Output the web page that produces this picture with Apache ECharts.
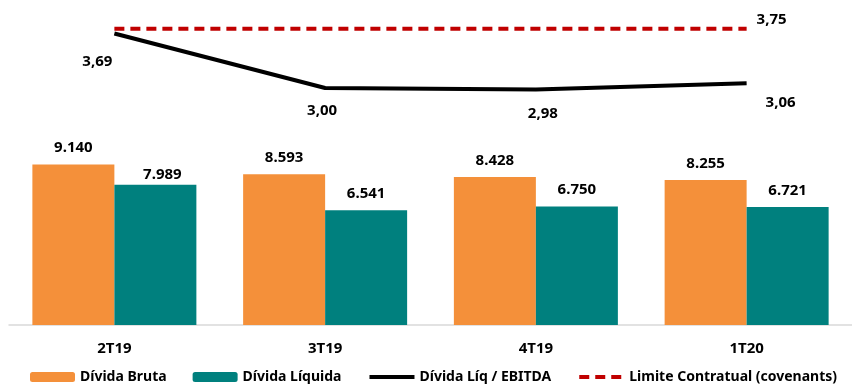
<!DOCTYPE html>
<html>
<head>
<meta charset="utf-8">
<script src="https://cdn.jsdelivr.net/npm/echarts@6/dist/echarts.min.js"></script>
<style>
  html, body { margin: 0; padding: 0; background: #fff; }
  #chart { width: 852px; height: 385px; }
</style>
</head>
<body>
<div id="chart"></div>
<script>
const categories = ['2T19', '3T19', '4T19', '1T20']
const dividaBruta = [9140, 8593, 8428, 8255]
const dividaLiquida = [7989, 6541, 6750, 6721]
const alavancagem = [3.69, 3.00, 2.98, 3.06]
const limiteCovenants = [3.75, 3.75, 3.75, 3.75]

const fontFamily = '"Noto Sans", "Open Sans", sans-serif'

// 9140 -> "9.140", 3.69 -> "3,69"
function fmtThousands(v) {
  return String(v).replace(/\B(?=(\d{3})+(?!\d))/g, '.')
}
function fmtDecimal(v) {
  return v.toFixed(2).replace('.', ',')
}

const labelStyle = {
  show: true,
  position: 'top',
  distance: 9,
  color: '#000',
  fontWeight: 'bold',
  fontSize: 15,
  fontFamily: fontFamily
}

// label offsets for the ratio line (placed by hand in the original)
const ratioOffsets = [[-17, 28], [-3, 23], [7, 24], [34, 19]]

const chart = echarts.init(document.getElementById('chart'))
chart.setOption({
  animation: false,
  grid: { left: 9, right: 0, top: 9, bottom: 60 },
  legend: {
    data: [
      { name: 'Dívida Bruta' },
      { name: 'Dívida Líquida' },
      { name: 'Dívida Líq / EBITDA', itemStyle: { opacity: 0 }, lineStyle: { width: 4 } },
      { name: 'Limite Contratual (covenants)', itemStyle: { opacity: 0 }, lineStyle: { width: 4 } }
    ],
    left: 30,
    top: 370,
    padding: 0,
    itemWidth: 45,
    itemHeight: 10,
    itemGap: 26,
    textStyle: { color: '#000', fontWeight: 'bold', fontSize: 14, fontFamily: fontFamily }
  },
  xAxis: {
    type: 'category',
    data: categories,
    axisLine: { lineStyle: { color: '#d9d9d9', width: 1.5 } },
    axisTick: { show: false },
    axisLabel: { margin: 16, color: '#000', fontWeight: 'bold', fontSize: 15, fontFamily: fontFamily }
  },
  yAxis: [
    { type: 'value', min: 0, max: 18000, show: false, splitLine: { show: false } },
    { type: 'value', min: 0, max: 4, show: false, splitLine: { show: false } }
  ],
  series: [
    {
      name: 'Dívida Bruta',
      type: 'bar',
      barWidth: 82,
      barGap: '0%',
      itemStyle: { color: '#F4903A' },
      label: Object.assign({}, labelStyle, { formatter: p => fmtThousands(p.value) }),
      data: dividaBruta
    },
    {
      name: 'Dívida Líquida',
      type: 'bar',
      barWidth: 82,
      barGap: '0%',
      itemStyle: { color: '#00807E' },
      label: Object.assign({}, labelStyle, { formatter: p => fmtThousands(p.value) }),
      data: dividaLiquida.map((v, i) => i === 0 ? { value: v, label: { offset: [7, 6] } } : v)
    },
    {
      name: 'Dívida Líq / EBITDA',
      type: 'line',
      yAxisIndex: 1,
      symbol: 'none',
      lineStyle: { color: '#000', width: 4 },
      itemStyle: { color: '#000' },
      data: alavancagem
    },
    {
      name: 'Limite Contratual (covenants)',
      type: 'line',
      yAxisIndex: 1,
      symbol: 'none',
      lineStyle: { color: '#C00000', width: 4, type: [10, 6] },
      itemStyle: { color: '#C00000' },
      data: limiteCovenants
    },
    {
      // labels for the ratio line
      name: 'ratioLabels',
      type: 'scatter',
      yAxisIndex: 1,
      symbolSize: 0,
      silent: true,
      itemStyle: { opacity: 1 },
      data: alavancagem.map((v, i) => ({
        value: v,
        label: Object.assign({}, labelStyle, {
          position: 'inside',
          offset: ratioOffsets[i],
          formatter: p => fmtDecimal(p.value)
        })
      }))
    },
    {
      // label for the covenant limit (last point only)
      name: 'limitLabel',
      type: 'scatter',
      yAxisIndex: 1,
      symbolSize: 0,
      silent: true,
      itemStyle: { opacity: 1 },
      data: limiteCovenants.map((v, i) => i === limiteCovenants.length - 1 ? {
        value: v,
        label: Object.assign({}, labelStyle, {
          position: 'inside',
          offset: [25, -9],
          formatter: p => fmtDecimal(p.value)
        })
      } : { value: v })
    }
  ]
})
</script>
</body>
</html>
